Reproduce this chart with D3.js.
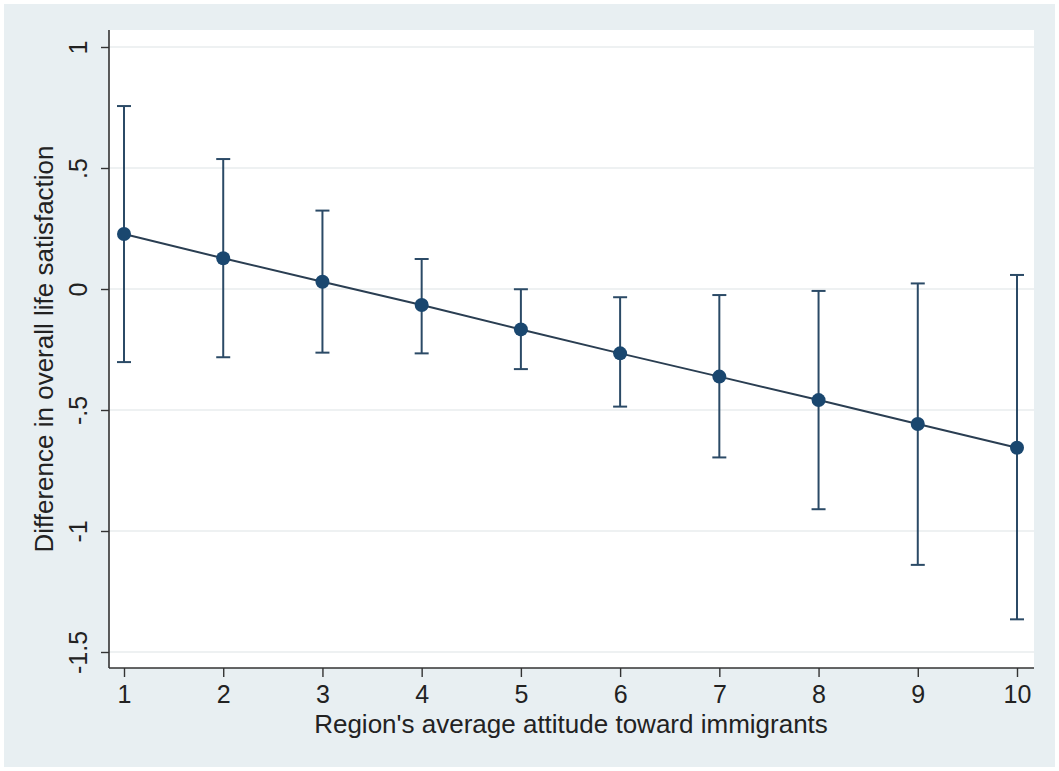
<!DOCTYPE html>
<html>
<head>
<meta charset="utf-8">
<script src="https://cdn.jsdelivr.net/npm/d3@7"></script>
<style>
  html, body { margin: 0; padding: 0; background: #ffffff; }
  svg { display: block; }
  text { font-family: "Liberation Sans", Arial, sans-serif; fill: #222; }
</style>
</head>
<body>
<svg id="chart" width="1059" height="771"></svg>
<script>
// Predicted difference in life satisfaction with 95% confidence intervals
const attitude = [1, 2, 3, 4, 5, 6, 7, 8, 9, 10];
const estimate = [0.227, 0.127, 0.030, -0.066, -0.167, -0.266, -0.362, -0.459, -0.558, -0.656];
const ciUpper  = [0.756, 0.537, 0.324, 0.124, -0.001, -0.034, -0.025, -0.008, 0.023, 0.058];
const ciLower  = [-0.302, -0.282, -0.263, -0.266, -0.331, -0.486, -0.696, -0.910, -1.140, -1.365];
const yTicks = [1, 0.5, 0, -0.5, -1, -1.5];
const yTickLabels = ["1", ".5", "0", "-.5", "-1", "-1.5"];
const xTicks = attitude;

const svg = d3.select("#chart");
const W = 1059, H = 771;

// Outer graph region
svg.append("rect").attr("x", 0).attr("y", 0).attr("width", W).attr("height", H).attr("fill", "#ffffff");
svg.append("rect").attr("x", 4).attr("y", 4).attr("width", W - 8).attr("height", H - 8).attr("fill", "#e8eff2");

// Plot region
const plot = { left: 109, right: 1034, top: 30, bottom: 668 };
svg.append("rect")
  .attr("x", plot.left).attr("y", plot.top)
  .attr("width", plot.right - plot.left).attr("height", plot.bottom - plot.top)
  .attr("fill", "#ffffff");

const x = d3.scaleLinear().domain([1, 10]).range([124, 1017]);
const y = d3.scaleLinear().domain([-1.5, 1]).range([652, 47]);

// Horizontal grid lines
svg.append("g").selectAll("line").data(yTicks).join("line")
  .attr("x1", plot.left).attr("x2", plot.right)
  .attr("y1", d => y(d)).attr("y2", d => y(d))
  .attr("stroke", "#e9ecee").attr("stroke-width", 1.5);

// Y axis
const yAxis = svg.append("g").attr("transform", `translate(${plot.left},0)`)
  .call(d3.axisLeft(y).tickValues(yTicks).tickSize(8).tickSizeOuter(0)
    .tickFormat((d, i) => yTickLabels[i]));
yAxis.select(".domain").attr("d", `M0,${plot.top}V${plot.bottom}`).attr("stroke", "#333").attr("stroke-width", 1.6);
yAxis.selectAll(".tick line").attr("stroke", "#333").attr("stroke-width", 1.4);
yAxis.selectAll(".tick text")
  .attr("x", null).attr("dy", null)
  .attr("text-anchor", "middle")
  .attr("transform", "translate(-31,0) rotate(-90)")
  .attr("dominant-baseline", "central")
  .style("font-size", "25px").style("font-family", "Liberation Sans, Arial, sans-serif").attr("fill", "#222");

// X axis
const xAxis = svg.append("g").attr("transform", `translate(0,${plot.bottom})`)
  .call(d3.axisBottom(x).tickValues(xTicks).tickSize(9).tickSizeOuter(0).tickFormat(d3.format("d")));
xAxis.select(".domain").attr("d", `M${plot.left},0H${plot.right}`).attr("stroke", "#333").attr("stroke-width", 1.6);
xAxis.selectAll(".tick line").attr("stroke", "#333").attr("stroke-width", 1.4);
xAxis.selectAll(".tick text")
  .attr("y", 26).attr("dy", "0.35em")
  .style("font-size", "25px").style("font-family", "Liberation Sans, Arial, sans-serif").attr("fill", "#222");

// Axis titles
svg.append("text")
  .attr("x", 571).attr("y", 724)
  .attr("text-anchor", "middle").attr("dominant-baseline", "central")
  .style("font-size", "26px")
  .text("Region's average attitude toward immigrants");
svg.append("text")
  .attr("transform", `translate(44,${(plot.top + plot.bottom) / 2}) rotate(-90)`)
  .attr("text-anchor", "middle").attr("dominant-baseline", "central")
  .style("font-size", "26px")
  .text("Difference in overall life satisfaction");

const navy = "#1a476f";
const rows = attitude.map((a, i) => ({ a, est: estimate[i], lo: ciLower[i], hi: ciUpper[i] }));

// Confidence interval bars with caps
const ci = svg.append("g").attr("stroke", "#2b4a66").attr("stroke-width", 2);
ci.selectAll("line.v").data(rows).join("line").attr("class", "v")
  .attr("x1", d => x(d.a)).attr("x2", d => x(d.a))
  .attr("y1", d => y(d.hi)).attr("y2", d => y(d.lo));
ci.selectAll("line.t").data(rows).join("line").attr("class", "t")
  .attr("x1", d => x(d.a) - 7).attr("x2", d => x(d.a) + 7)
  .attr("y1", d => y(d.hi)).attr("y2", d => y(d.hi));
ci.selectAll("line.b").data(rows).join("line").attr("class", "b")
  .attr("x1", d => x(d.a) - 7).attr("x2", d => x(d.a) + 7)
  .attr("y1", d => y(d.lo)).attr("y2", d => y(d.lo));

// Connecting line for the estimates
svg.append("path").datum(rows)
  .attr("fill", "none").attr("stroke", "#2a3e52").attr("stroke-width", 2)
  .attr("d", d3.line().x(d => x(d.a)).y(d => y(d.est)));

// Estimate markers
svg.append("g").selectAll("circle").data(rows).join("circle")
  .attr("cx", d => x(d.a)).attr("cy", d => y(d.est)).attr("r", 7)
  .attr("fill", navy);
</script>
</body>
</html>
